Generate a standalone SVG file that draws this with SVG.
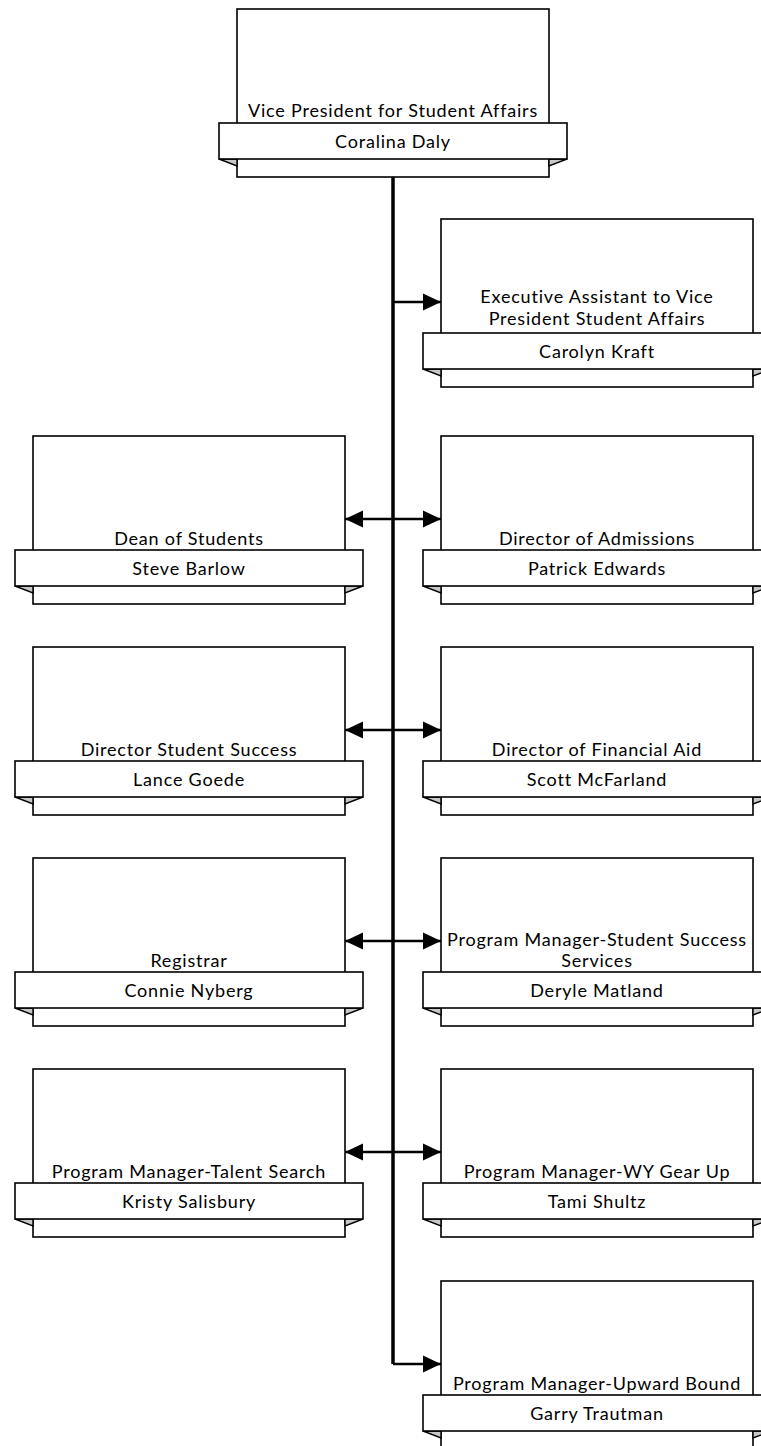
<svg xmlns="http://www.w3.org/2000/svg" width="761" height="1446" viewBox="0 0 761 1446">
<style>
.box{fill:#fff;stroke:#000;stroke-width:1.6}
.fold{fill:#c8c8c8;stroke:#000;stroke-width:1.4;stroke-linejoin:miter}
.t{font-family:Lato,"Liberation Sans",sans-serif;font-size:18px;letter-spacing:0.8px;fill:#000;text-anchor:middle}
.vline{fill:none;stroke:#000;stroke-width:3.5}
.hline{fill:none;stroke:#000;stroke-width:2.5}
</style>
<defs>
<g id="shape">
<rect class="box" x="18" y="0" width="312" height="168"/>
<polygon class="fold" points="0,150 18,150 18,157"/>
<polygon class="fold" points="348,150 330,150 330,157"/>
<rect class="box" x="0" y="114" width="348" height="36"/>
</g>
<marker id="arr" markerUnits="userSpaceOnUse" markerWidth="18" markerHeight="18" viewBox="0 0 17 16" refX="17" refY="8" orient="auto-start-reverse">
<path d="M0,0 L17,8 L0,16 Z" fill="#000"/>
</marker>
</defs>
<g id="connectors">
<path class="vline" d="M393,177 V1364"/>
<path class="hline" d="M393,1364 H441" marker-end="url(#arr)"/>
<path class="hline" d="M393,302 H441" marker-end="url(#arr)"/>
<path class="hline" d="M345,519 H441" marker-start="url(#arr)" marker-end="url(#arr)"/>
<path class="hline" d="M345,730 H441" marker-start="url(#arr)" marker-end="url(#arr)"/>
<path class="hline" d="M345,941 H441" marker-start="url(#arr)" marker-end="url(#arr)"/>
<path class="hline" d="M345,1152 H441" marker-start="url(#arr)" marker-end="url(#arr)"/>
</g>
<g id="vp">
<use href="#shape" x="219" y="9"/>
<text class="t" x="393" y="117">Vice President for Student Affairs</text>
<text class="t" x="393" y="148">Coralina Daly</text>
</g>
<g id="exec">
<use href="#shape" x="423" y="219"/>
<text class="t" x="597" y="303">Executive Assistant to Vice</text>
<text class="t" x="597" y="325">President Student Affairs</text>
<text class="t" x="597" y="358">Carolyn Kraft</text>
</g>
<g id="dean">
<use href="#shape" x="15" y="436"/>
<text class="t" x="189" y="545">Dean of Students</text>
<text class="t" x="189" y="575">Steve Barlow</text>
</g>
<g id="admissions">
<use href="#shape" x="423" y="436"/>
<text class="t" x="597" y="545">Director of Admissions</text>
<text class="t" x="597" y="575">Patrick Edwards</text>
</g>
<g id="success">
<use href="#shape" x="15" y="647"/>
<text class="t" x="189" y="756">Director Student Success</text>
<text class="t" x="189" y="786">Lance Goede</text>
</g>
<g id="finaid">
<use href="#shape" x="423" y="647"/>
<text class="t" x="597" y="756">Director of Financial Aid</text>
<text class="t" x="597" y="786">Scott McFarland</text>
</g>
<g id="registrar">
<use href="#shape" x="15" y="858"/>
<text class="t" x="189" y="967">Registrar</text>
<text class="t" x="189" y="997">Connie Nyberg</text>
</g>
<g id="sss">
<use href="#shape" x="423" y="858"/>
<text class="t" x="597" y="946">Program Manager-Student Success</text>
<text class="t" x="597" y="967">Services</text>
<text class="t" x="597" y="997">Deryle Matland</text>
</g>
<g id="talent">
<use href="#shape" x="15" y="1069"/>
<text class="t" x="189" y="1178">Program Manager-Talent Search</text>
<text class="t" x="189" y="1208">Kristy Salisbury</text>
</g>
<g id="gearup">
<use href="#shape" x="423" y="1069"/>
<text class="t" x="597" y="1178">Program Manager-WY Gear Up</text>
<text class="t" x="597" y="1208">Tami Shultz</text>
</g>
<g id="upward">
<use href="#shape" x="423" y="1281"/>
<text class="t" x="597" y="1390">Program Manager-Upward Bound</text>
<text class="t" x="597" y="1420">Garry Trautman</text>
</g>
</svg>
